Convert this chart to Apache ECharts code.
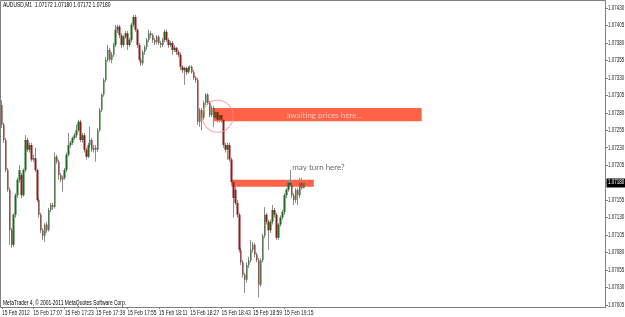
<!DOCTYPE html>
<html><head><meta charset="utf-8">
<script src="https://cdn.jsdelivr.net/npm/echarts@6.0.0/dist/echarts.min.js"></script>
<style>html,body{margin:0;padding:0;background:#fff}#c{width:625px;height:317px}</style>
</head><body><div id="c"></div>
<script>
// AUDUSD M1 candles (open, close, low, high)
const openP = [
1.07291,1.07263,1.07241,1.07198,1.07170,1.07112,1.07091,1.07134,1.07162,1.07184,
1.07191,1.07162,1.07198,1.07241,1.07227,1.07234,1.07213,1.07215,1.07198,1.07155,
1.07134,1.07112,1.07104,1.07120,1.07112,1.07141,1.07148,1.07145,1.07217,1.07210,
1.07191,1.07184,1.07187,1.07198,1.07220,1.07234,1.07237,1.07244,1.07248,1.07255,
1.07267,1.07241,1.07248,1.07227,1.07217,1.07234,1.07241,1.07227,1.07230,1.07227,
1.07255,1.07284,1.07306,1.07327,1.07356,1.07370,1.07356,1.07363,1.07377,1.07399,
1.07403,1.07391,1.07377,1.07389,1.07394,1.07377,1.07384,1.07406,1.07417,1.07399,
1.07377,1.07356,1.07351,1.07367,1.07374,1.07384,1.07394,1.07391,1.07384,1.07381,
1.07389,1.07380,1.07377,1.07384,1.07396,1.07384,1.07377,1.07380,1.07370,1.07373,
1.07367,1.07363,1.07346,1.07341,1.07344,1.07338,1.07344,1.07346,1.07338,1.07330,
1.07327,1.07267,1.07284,1.07273,1.07294,1.07306,1.07294,1.07277,1.07287,1.07273,
1.07281,1.07270,1.07277,1.07270,1.07234,1.07227,1.07234,1.07213,1.07181,1.07170,
1.07151,1.07134,1.07084,1.07066,1.07048,1.07041,1.07062,1.07069,1.07084,1.07091,
1.07077,1.07069,1.07034,1.07069,1.07104,1.07134,1.07124,1.07112,1.07124,1.07141,
1.07134,1.07101,1.07120,1.07130,1.07138,1.07162,1.07170,1.07180,1.07177,1.07162,
1.07155,1.07170,1.07162,1.07180,1.07172];
const closeP = [
1.07263,1.07241,1.07198,1.07170,1.07112,1.07091,1.07134,1.07162,1.07184,1.07198,
1.07162,1.07198,1.07241,1.07227,1.07234,1.07213,1.07215,1.07198,1.07155,1.07134,
1.07112,1.07104,1.07120,1.07112,1.07141,1.07148,1.07145,1.07217,1.07210,1.07191,
1.07184,1.07187,1.07198,1.07220,1.07234,1.07237,1.07244,1.07248,1.07255,1.07267,
1.07241,1.07248,1.07227,1.07217,1.07234,1.07241,1.07227,1.07230,1.07227,1.07255,
1.07284,1.07306,1.07327,1.07356,1.07370,1.07356,1.07363,1.07377,1.07399,1.07403,
1.07391,1.07377,1.07389,1.07394,1.07377,1.07384,1.07406,1.07417,1.07399,1.07377,
1.07356,1.07351,1.07367,1.07374,1.07384,1.07394,1.07391,1.07384,1.07381,1.07389,
1.07380,1.07377,1.07384,1.07396,1.07384,1.07377,1.07380,1.07370,1.07373,1.07367,
1.07363,1.07346,1.07341,1.07344,1.07338,1.07344,1.07346,1.07338,1.07330,1.07327,
1.07267,1.07284,1.07273,1.07294,1.07306,1.07294,1.07277,1.07287,1.07273,1.07281,
1.07270,1.07277,1.07270,1.07234,1.07227,1.07234,1.07213,1.07181,1.07158,1.07151,
1.07134,1.07084,1.07066,1.07048,1.07041,1.07062,1.07069,1.07084,1.07091,1.07077,
1.07069,1.07034,1.07069,1.07104,1.07134,1.07124,1.07112,1.07124,1.07141,1.07134,
1.07101,1.07120,1.07130,1.07138,1.07162,1.07170,1.07180,1.07177,1.07162,1.07155,
1.07170,1.07162,1.07180,1.07172,1.07180];
const lowP = [
1.07258,1.07237,1.07195,1.07167,1.07091,1.07087,1.07088,1.07130,1.07158,1.07180,
1.07158,1.07160,1.07195,1.07224,1.07223,1.07210,1.07210,1.07195,1.07152,1.07130,
1.07108,1.07098,1.07095,1.07108,1.07110,1.07138,1.07141,1.07143,1.07207,1.07184,
1.07181,1.07167,1.07184,1.07195,1.07217,1.07230,1.07234,1.07241,1.07244,1.07253,
1.07238,1.07237,1.07223,1.07213,1.07215,1.07230,1.07224,1.07223,1.07210,1.07224,
1.07253,1.07281,1.07303,1.07324,1.07353,1.07353,1.07351,1.07360,1.07374,1.07394,
1.07387,1.07373,1.07374,1.07386,1.07370,1.07374,1.07381,1.07403,1.07396,1.07373,
1.07353,1.07347,1.07348,1.07363,1.07370,1.07381,1.07387,1.07380,1.07377,1.07378,
1.07377,1.07373,1.07374,1.07381,1.07381,1.07373,1.07374,1.07363,1.07367,1.07363,
1.07360,1.07341,1.07337,1.07320,1.07334,1.07336,1.07341,1.07336,1.07327,1.07323,
1.07263,1.07260,1.07255,1.07270,1.07291,1.07291,1.07274,1.07274,1.07260,1.07270,
1.07266,1.07267,1.07266,1.07230,1.07223,1.07213,1.07210,1.07177,1.07130,1.07148,
1.07130,1.07080,1.07062,1.07044,1.07022,1.07037,1.07058,1.07066,1.07080,1.07073,
1.07066,1.07016,1.07031,1.07066,1.07101,1.07120,1.07084,1.07108,1.07120,1.07130,
1.07098,1.07098,1.07117,1.07127,1.07134,1.07158,1.07167,1.07174,1.07158,1.07148,
1.07151,1.07148,1.07158,1.07170,1.07172];
const highP = [
1.07298,1.07266,1.07244,1.07201,1.07173,1.07115,1.07136,1.07165,1.07187,1.07205,
1.07194,1.07200,1.07248,1.07244,1.07237,1.07237,1.07220,1.07230,1.07200,1.07158,
1.07137,1.07115,1.07122,1.07124,1.07144,1.07151,1.07151,1.07223,1.07220,1.07213,
1.07194,1.07190,1.07201,1.07223,1.07251,1.07240,1.07246,1.07251,1.07263,1.07270,
1.07270,1.07251,1.07251,1.07230,1.07237,1.07260,1.07244,1.07234,1.07234,1.07258,
1.07287,1.07308,1.07330,1.07360,1.07377,1.07373,1.07367,1.07380,1.07406,1.07406,
1.07406,1.07394,1.07391,1.07397,1.07397,1.07387,1.07409,1.07420,1.07420,1.07401,
1.07380,1.07358,1.07370,1.07377,1.07387,1.07399,1.07397,1.07394,1.07387,1.07391,
1.07391,1.07383,1.07387,1.07399,1.07399,1.07387,1.07383,1.07383,1.07377,1.07374,
1.07370,1.07366,1.07348,1.07346,1.07346,1.07347,1.07348,1.07348,1.07341,1.07333,
1.07330,1.07287,1.07287,1.07297,1.07308,1.07308,1.07297,1.07290,1.07290,1.07284,
1.07284,1.07280,1.07280,1.07273,1.07237,1.07237,1.07237,1.07216,1.07184,1.07181,
1.07155,1.07137,1.07087,1.07069,1.07051,1.07066,1.07074,1.07098,1.07095,1.07094,
1.07080,1.07072,1.07072,1.07107,1.07145,1.07137,1.07127,1.07127,1.07148,1.07144,
1.07137,1.07122,1.07133,1.07141,1.07165,1.07172,1.07184,1.07198,1.07180,1.07165,
1.07172,1.07172,1.07187,1.07187,1.07180];

const timeLabels = ['15 Feb 2012','15 Feb 17:07','15 Feb 17:23','15 Feb 17:39','15 Feb 17:55',
  '15 Feb 18:11','15 Feb 18:27','15 Feb 18:43','15 Feb 18:59','15 Feb 19:15'];
const barsPerLabel = 16;
const totalSlots = 308; // chart width incl. empty shift area on the right
const priceTicks = [1.07005,1.07030,1.07055,1.07080,1.07105,1.07130,1.07155,1.07180,1.07205,
  1.07230,1.07255,1.07280,1.07305,1.07330,1.07355,1.07380,1.07405,1.07430];
const bidPrice = 1.07180;
const headerText = 'AUDUSD,M1  1.07172 1.07180 1.07172 1.07180';
const footerText = 'MetaTrader 4, \u00A9 2001-2011 MetaQuotes Software Corp.';

// annotation objects (time index, price)
const awaitRect = {from: 108, to: 214, top: 1.07287, bottom: 1.07268, text: 'awaiting prices here...', textAt: [145, 1.07276]};
const turnRect = {from: 117, to: 159, top: 1.07184, bottom: 1.07174};
const circleObj = {at: [110, 1.07275]};
const turnText = {text: 'may turn here?', at: [148, 1.07202]};

const cats = [];
for (let i = 0; i < totalSlots; i++) cats.push(String(i));
const candles = openP.map((o, i) => [o, closeP[i], lowP[i], highP[i]]);

const FONT = "'Liberation Sans', Arial, sans-serif";
const SMALL = 6.5, SQUEEZE = 0.76, SQUEEZE_Y = 0.69;
const isLabelIdx = (idx) => idx % barsPerLabel === 0 && idx / barsPerLabel < timeLabels.length;

const chart = echarts.init(document.getElementById('c'), null, {renderer: 'canvas'});
chart.setOption({
  animation: false,
  backgroundColor: '#ffffff',
  grid: {left: 1, right: 20, top: 1, bottom: 10, containLabel: false, outerBoundsMode: 'none'},
  xAxis: {
    type: 'category', data: cats, boundaryGap: true,
    axisLine: {show: true, lineStyle: {color: '#808080', width: 1}},
    axisTick: {show: true, alignWithLabel: true, length: 2, interval: (i) => isLabelIdx(i), lineStyle: {color: '#808080'}},
    axisLabel: {show: false},
    splitLine: {show: false}
  },
  yAxis: {
    type: 'value', position: 'right', min: 1.07002, max: 1.07440, scale: true,
    axisLine: {show: true, lineStyle: {color: '#808080', width: 1}},
    axisTick: {show: true, length: 3, inside: false, customValues: priceTicks, lineStyle: {color: '#808080'}},
    axisLabel: {show: false},
    splitLine: {show: false}
  },
  series: [
    {
      // wicks / outlines
      type: 'candlestick', data: candles, barWidth: 1,
      itemStyle: {color: '#9a9a9a', color0: '#9a9a9a', borderColor: '#8c8c8c', borderColor0: '#8c8c8c', borderWidth: 1},
      z: 3,
      markLine: {
        silent: true, symbol: ['none', 'none'], animation: false,
        lineStyle: {color: '#c8c8c8', width: 1, type: 'solid'},
        label: {show: false},
        data: [{yAxis: bidPrice}]
      },
      markArea: {
        silent: true,
        itemStyle: {color: '#ff6347', opacity: 1},
        data: [
          [{xAxis: String(awaitRect.from), yAxis: awaitRect.top}, {xAxis: String(awaitRect.to), yAxis: awaitRect.bottom}],
          [{xAxis: String(turnRect.from), yAxis: turnRect.top}, {xAxis: String(turnRect.to), yAxis: turnRect.bottom}]
        ]
      }
    },
    {
      // bodies
      type: 'candlestick', data: candles, barWidth: 2,
      itemStyle: {color: '#1e6a1e', color0: '#8c1d1d', borderColor: 'rgba(0,0,0,0)', borderColor0: 'rgba(0,0,0,0)', borderWidth: 0},
      z: 4
    },
    {
      type: 'scatter', silent: true, z: 5,
      data: [[String(circleObj.at[0]), circleObj.at[1]]],
      symbol: 'circle', symbolSize: [31, 32],
      itemStyle: {color: 'rgba(0,0,0,0)', borderColor: '#ff8a8a', borderWidth: 1}
    },
    {
      type: 'scatter', silent: true, z: 6,
      data: [
        {value: [String(awaitRect.textAt[0]), awaitRect.textAt[1]], label: {formatter: awaitRect.text, color: '#ffd8d0'}},
        {value: [String(turnText.at[0]), turnText.at[1]], label: {formatter: turnText.text, color: '#444'}}
      ],
      symbol: 'circle', symbolSize: 0.1, itemStyle: {color: 'rgba(0,0,0,0)'},
      label: {show: true, position: 'right', distance: 0, fontSize: 8, fontFamily: "Lato, 'Open Sans', sans-serif"}
    }
  ]
});

// axis labels, header and footer as condensed text, positioned through the chart's own scales
const gfx = [
  {type: 'rect', id: 'frame', shape: {x: 0.5, y: 0.5, width: 605, height: 307}, style: {fill: 'none', stroke: '#808080', lineWidth: 1}, silent: true, z: 0},
  {type: 'text', id: 'hdr', x: 3, y: 2, scaleX: SQUEEZE, style: {text: headerText, fontSize: SMALL, fill: '#000', fontFamily: FONT, align: 'left', verticalAlign: 'top'}, z: 10},
  {type: 'text', id: 'ftr', x: 3, y: 300, scaleX: SQUEEZE, style: {text: footerText, fontSize: SMALL, fill: '#000', fontFamily: FONT, align: 'left', verticalAlign: 'top'}, z: 10}
];
timeLabels.forEach((t, k) => {
  const px = chart.convertToPixel({xAxisIndex: 0}, String(k * barsPerLabel));
  gfx.push({type: 'text', id: 'xl' + k, x: px, y: 309.5, scaleX: SQUEEZE,
    style: {text: t, fontSize: SMALL, fill: '#222', fontFamily: FONT, align: 'left', verticalAlign: 'top'}, z: 10});
});
priceTicks.forEach((v, k) => {
  const py = chart.convertToPixel({yAxisIndex: 0}, v);
  gfx.push({type: 'text', id: 'yl' + k, x: 608, y: py, scaleX: SQUEEZE_Y,
    style: {text: v.toFixed(5), fontSize: SMALL, fill: '#222', fontFamily: FONT, align: 'left', verticalAlign: 'middle'}, z: 10});
});
const by = chart.convertToPixel({yAxisIndex: 0}, bidPrice);
gfx.push({type: 'rect', id: 'bidbox', shape: {x: 606.5, y: Math.round(by) - 4.5, width: 18.5, height: 9}, style: {fill: '#000'}, z: 11});
gfx.push({type: 'text', id: 'bidtxt', x: 608, y: by, scaleX: SQUEEZE_Y,
  style: {text: bidPrice.toFixed(5), fontSize: SMALL, fill: '#fff', fontFamily: FONT, align: 'left', verticalAlign: 'middle'}, z: 12});
chart.setOption({graphic: gfx});
</script>
</body></html>
